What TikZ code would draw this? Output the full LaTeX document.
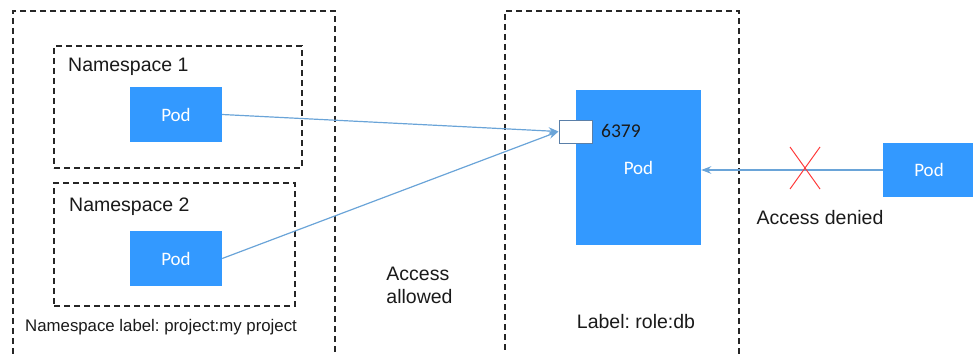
\documentclass[tikz,border=0pt]{standalone}
\usepackage{fontspec}
\setmainfont{Liberation Sans}
\newfontfamily\podfont{Carlito}
\usetikzlibrary{arrows.meta}
\definecolor{podblue}{HTML}{3399FF}
\definecolor{linkblue}{HTML}{6AA4D8}
\definecolor{portedge}{HTML}{5A7FA8}
\definecolor{txt}{HTML}{1A1A1A}
\definecolor{xred}{HTML}{FF3B3B}
\frenchspacing
\tikzset{
  dbox/.style={draw=black!85, dash pattern=on 6pt off 4pt, line width=1.1pt, rectangle, inner sep=0pt},
  podbox/.style={fill=podblue, draw=none, rectangle, inner sep=0pt, text=white, font=\podfont\fontsize{19}{21}\selectfont},
  lbl/.style={text=txt, inner sep=0pt, font=\fontsize{19.5}{23}\selectfont},
  link/.style={draw=linkblue, line width=1.2pt, -{Stealth[length=10pt,width=7.5pt]}},
}
\begin{document}
\frenchspacing
\begin{tikzpicture}[x=1pt,y=-1pt]
\useasboundingbox (0,0) rectangle (973,353);
% outer dashed boxes
\node[dbox, minimum width=322pt, minimum height=349pt] (left) at (174,185.5) {};
\node[dbox, minimum width=234pt, minimum height=349pt] (right) at (622,185.5) {};
% namespaces
\node[dbox, minimum width=248pt, minimum height=122pt] (ns1) at (178,107) {};
\node[dbox, minimum width=241pt, minimum height=123pt] (ns2) at (174.5,244.5) {};
\node[lbl, anchor=west] (ns1t) at (68,67) {Namespace 1};
\node[lbl, anchor=west] (ns2t) at (69,207) {Namespace 2};
\node[lbl, anchor=west, font=\fontsize{16.8}{20}\selectfont] (nslbl) at (25,327) {Namespace label: project:my project};
% pods
\node[podbox, minimum width=92pt, minimum height=55pt] (p1) at (176,114.5) {Pod};
\node[podbox, minimum width=92pt, minimum height=55pt] (p2) at (176,258.5) {Pod};
\node[podbox, minimum width=125pt, minimum height=155pt] (db) at (638.5,167.5) {};
\node[text=white, inner sep=0pt, font=\podfont\fontsize{19}{21}\selectfont] (dbt) at (638.5,168) {Pod};
\node[podbox, minimum width=92pt, minimum height=54pt] (rp) at (929,170) {Pod};
% port
\node[draw=portedge, fill=white, line width=1pt, minimum width=33pt, minimum height=23pt, inner sep=0pt] (port) at (575.5,131.5) {};
\node[anchor=west, inner sep=0pt, text=txt, font=\podfont\fontsize{19.5}{22}\selectfont] (portt) at (601,131) {6379};
% labels
\node[lbl] (rolelbl) at (636,322) {Label: role:db};
\node[lbl] (denied) at (820,218) {Access denied};
\node[lbl, align=left] (allowed) at (419.5,285) {Access\\allowed};
% connectors
\draw[link] (p1.east) -- (port.west);
\draw[link] (p2.east) -- (port.west);
\draw[link] (rp.west) -- (rp.west -| db.east);
% red cross
\coordinate (xc) at (805,168);
\draw[xred, line width=1pt] ([shift={(-15,-21)}]xc) -- ([shift={(15,21)}]xc);
\draw[xred, line width=1pt] ([shift={(15,-21)}]xc) -- ([shift={(-15,21)}]xc);
\end{tikzpicture}
\end{document}
